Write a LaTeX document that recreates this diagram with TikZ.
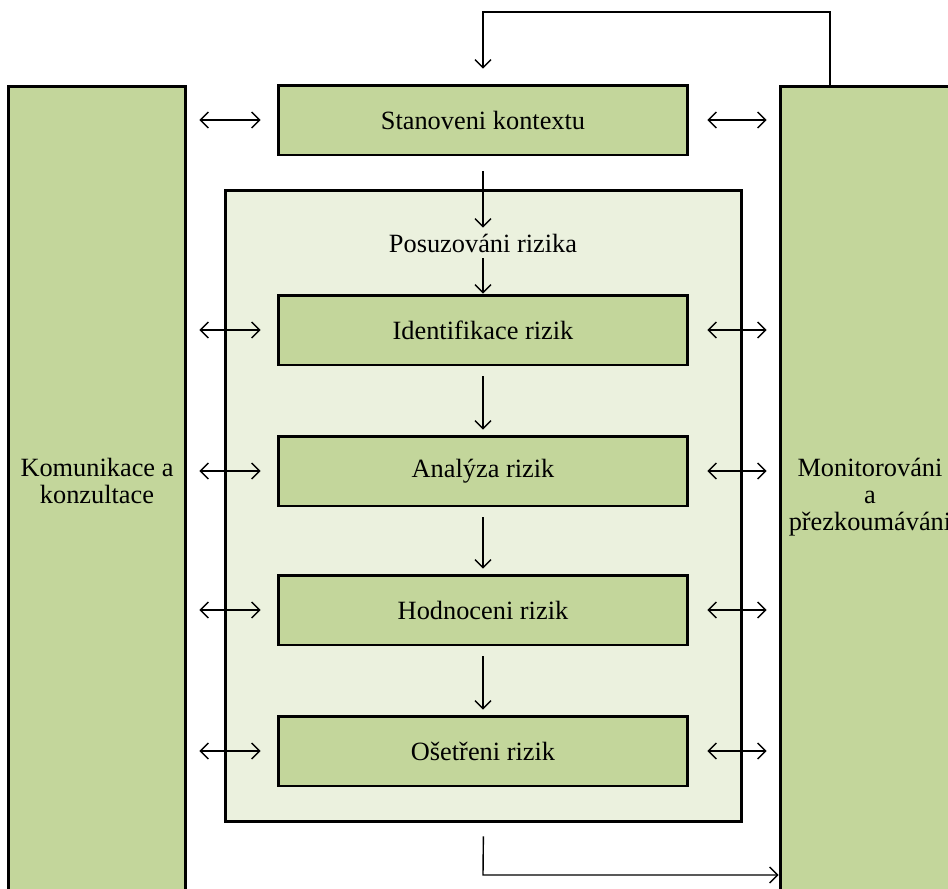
\documentclass[tikz,border=0pt]{standalone}
\usepackage{fontspec}
\setmainfont{Liberation Serif}
\usepackage{tikz}
\usetikzlibrary{arrows.meta}

\definecolor{boxgreen}{HTML}{C3D69B}
\definecolor{palegreen}{HTML}{EBF1DE}

\begin{document}
\begin{tikzpicture}[x=0.02cm, y=-0.02cm, font=\fontsize{15}{15.5}\selectfont,
  >={Straight Barb[length=4.5pt,width=9pt]},
  stage/.style={draw, line width=1.7pt, fill=boxgreen, minimum width=8.2cm, minimum height=1.4cm, inner sep=0pt},
  side/.style={draw, line width=1.7pt, fill=boxgreen, minimum height=17cm, anchor=north, inner sep=0pt},
  link/.style={line width=0.8pt}]
  \useasboundingbox (0,0) rectangle (948,889);
  \clip (0,0) rectangle (948,889);

  % side boxes, running past the lower edge
  \node[side, minimum width=3.56cm] (kom) at (97,85) {};
  \node[side, minimum width=3.6cm] (mon) at (870,85) {};
  \node[align=center] (komtxt) at (97,481) {Komunikace a\\konzultace};
  \node[align=center] (montxt) at (870,497) {Monitorováni\\a\\přezkoumáváni};

  % risk assessment frame
  \node[draw, line width=1.7pt, fill=palegreen, minimum width=10.34cm, minimum height=12.64cm] (posbox) at (483.5,506) {};
  \node (posuz) at (483,243) {Posuzováni rizika};

  \node[stage] (ctx) at (483,120) {Stanoveni kontextu};
  \node[stage] (ident) at (483,330) {Identifikace rizik};
  \node[stage] (anal) at (483,471) {Analýza rizik};
  \node[stage] (hodn) at (483,610) {Hodnoceni rizik};
  \node[stage] (oset) at (483,751) {Ošetřeni rizik};

  % main flow
  \draw[->, link, shorten <=0.3cm] (ctx) -- (posuz);
  \draw[->, link] (posuz) -- (ident);
  \draw[->, link, shorten <=0.2cm, shorten >=0.1cm] (ident) -- (anal);
  \draw[->, link, shorten <=0.2cm, shorten >=0.1cm] (anal) -- (hodn);
  \draw[->, link, shorten <=0.2cm, shorten >=0.1cm] (hodn) -- (oset);

  % feedback loops
  \coordinate (topturn) at (830,12);
  \draw[->, link] (mon.north -| topturn) -- (topturn) -| ([yshift=0.3cm]ctx.north);
  \coordinate (botturn) at (483,875);
  \draw[->, link, shorten <=0.26cm] (posbox.south) -- (botturn) -- (botturn -| mon.west);

  % communication and monitoring
  \foreach \n in {ctx,ident,anal,hodn,oset} {
    \draw[<->, link, shorten <=0.24cm, shorten >=0.32cm] (kom.east |- \n) -- (\n.west);
    \draw[<->, link, shorten <=0.36cm, shorten >=0.24cm] (\n.east) -- (mon.west |- \n);
  }
\end{tikzpicture}
\end{document}
